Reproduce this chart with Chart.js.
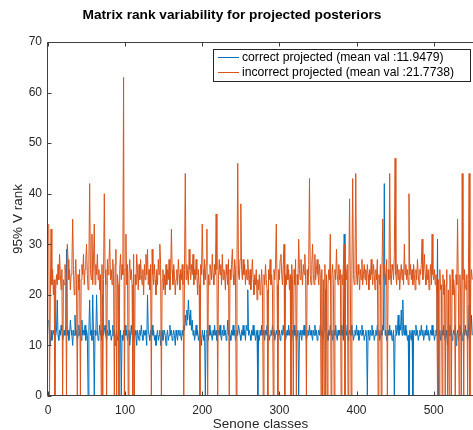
<!DOCTYPE html>
<html>
<head>
<meta charset="utf-8">
<title>Matrix rank variability</title>
<style>
  html, body { margin: 0; padding: 0; background: #fff; overflow: hidden; }
</style>
<script src="https://cdn.jsdelivr.net/npm/chart.js"></script>
</head>
<body>
<canvas id="myChart" width="473" height="430"></canvas>
<script>
// 95% rank per senone class, correct projections
var correctRank = [
  15,12,10,13,11,12,13,12,14,12, 13,19,12,11,13,12,14,13,11,12,
  13,12,14,29,12,13,11,12,15,13, 12,10,13,12,16,12,13,11,12,14,
  12,13,11,15,12,13,12,14,11,13, 12,0,13,19,12,13,11,20,12,0,
  13,12,20,13,11,12,14,12,13,11, 20,12,13,14,12,11,13,12,15,12,
  13,11,12,14,12,13,10,12,13,11, 12,14,12,13,0,12,11,13,12,14,
  12,13,11,12,13,10,12,14,12,13, 11,12,13,12,10,13,12,11,13,12,
  14,12,11,13,12,13,12,10,20,13, 12,11,13,12,14,12,13,11,12,10,
  12,13,11,12,13,10,12,13,11,12, 13,12,10,12,13,11,12,14,12,13,
  11,12,13,12,10,13,12,11,13,12, 13,12,11,13,12,14,13,16,14,17,
  15,19,16,14,17,13,15,12,13,11, 12,14,12,13,11,12,13,12,10,13,
  12,11,13,0,12,13,12,11,14,12, 13,12,11,13,12,14,12,13,11,12,
  13,12,14,12,11,13,12,14,12,13, 11,12,15,12,13,12,11,13,12,14,
  12,13,11,12,13,12,14,13,12,11, 13,12,14,12,13,11,14,13,21,12,
  13,12,11,13,12,14,12,13,11,12, 13,0,12,11,13,12,14,12,13,12,
  11,13,12,14,12,13,11,12,13,12, 14,12,13,11,12,13,12,14,12,13,
  11,12,13,12,14,12,13,11,12,13, 12,14,12,13,12,11,13,12,14,12,
  13,11,12,13,0,12,13,12,11,13, 12,14,12,13,11,12,13,12,14,12,
  13,12,11,13,12,14,12,13,11,12, 13,12,14,12,13,11,12,13,15,21,
  13,12,11,13,12,14,12,13,11,12, 13,12,14,12,11,13,12,13,12,14,
  12,13,11,32,12,13,12,14,11,12, 13,12,14,12,13,11,12,13,12,14,
  12,13,11,12,13,12,14,12,13,11, 12,13,12,0,13,12,11,13,12,14,
  12,13,11,12,13,12,14,12,13,11, 12,13,12,14,13,42,12,13,11,12,
  13,12,14,12,13,11,12,13,0,12, 14,12,13,16,12,14,13,17,12,19,
  13,12,14,12,13,11,12,0,13,12, 11,13,0,12,13,12,14,12,13,11,
  12,13,12,14,12,13,11,12,13,12, 14,12,13,11,12,13,12,14,12,13,
  11,12,13,12,31,0,12,13,11,12, 13,12,14,12,11,13,12,10,13,12,
  14,12,13,11,12,13,12,14,10,12, 13,11,12,14,12,13,11,12,13,12,
  14,12,13,11,12,18,13,12,16,12
];

// 95% rank per senone class, incorrect projections
var incorrectRank = [
  34,0,20,33,22,25,20,23,0,21, 24,22,26,23,28,24,21,25,0,23,
  22,26,24,0,30,27,23,25,21,24, 26,35,25,20,23,27,22,0,24,21,
  25,0,23,26,24,28,22,25,27,30, 24,21,26,42,25,23,32,22,27,34,
  22,26,24,28,23,25,21,24,0,26, 0,23,40,25,22,0,27,24,26,31,
  23,25,22,27,24,0,26,29,0,24, 22,0,25,28,23,26,24,63,0,25,
  32,22,26,0,24,27,23,25,22,0, 28,0,24,22,28,25,21,26,23,27,
  24,22,25,20,26,23,28,24,29,22, 25,21,26,0,29,24,22,26,23,20,
  25,22,27,24,30,26,0,23,25,21, 24,20,26,22,25,23,27,21,24,33,
  25,22,26,24,20,23,25,22,27,24, 21,25,23,26,22,0,25,44,23,26,
  24,22,29,25,23,26,24,28,22,25, 23,27,24,20,25,22,0,26,24,34,
  25,22,27,23,26,33,0,24,22,26, 25,23,28,24,22,26,24,36,25,0,
  23,27,24,26,22,28,23,25,24,21, 26,24,22,27,0,25,23,26,29,24,
  22,27,25,0,26,46,24,23,27,38, 25,23,27,24,26,22,25,23,27,24,
  22,25,21,24,27,23,20,24,22,25, 19,23,21,24,20,22,25,21,0,24,
  22,26,23,21,0,25,23,27,22,24, 21,0,25,23,26,34,22,0,25,23,
  27,28,24,22,26,30,0,24,22,26, 23,25,21,24,0,26,23,0,25,22,
  27,0,24,22,31,25,23,27,24,22, 26,24,28,23,0,25,22,26,43,24,
  22,26,30,24,22,28,23,25,27,24, 22,26,24,0,25,0,23,0,26,0,
  24,0,22,25,23,32,0,24,26,22, 0,25,23,29,24,22,26,23,25,0,
  24,22,26,30,0,25,23,26,0,24, 39,22,0,25,43,24,22,26,44,24,
  22,26,24,21,25,23,27,22,24,26, 23,25,22,26,24,21,25,23,27,24,
  22,26,24,21,25,23,27,0,24,22, 26,0,25,35,23,26,24,22,27,0,
  25,23,44,24,22,26,25,23,28,47, 24,22,26,23,25,21,24,26,23,25,
  22,30,24,26,23,25,22,40,24,26, 23,25,22,26,24,21,25,23,27,24,
  22,25,24,26,31,23,25,28,24,22, 26,23,25,21,24,26,22,32,24,23,
  25,22,24,20,0,23,0,25,21,22, 0,24,20,23,0,22,25,0,21,0,
  24,22,0,25,20,23,21,0,24,22, 35,21,0,24,20,0,44,23,0,25,
  22,21,24,0,23,44,0,22,25,23
];

var seriesNames = [
  'correct projected (mean val :11.9479)',
  'incorrect projected (mean val :21.7738)'
];
var xTicks = [0, 100, 200, 300, 400, 500];
var yTicks = [0, 10, 20, 30, 40, 50, 60, 70];

var blue = '#0072BD';
var orange = '#D95319';
var axisColor = '#404040';
var fontFamily = '"Liberation Sans", Arial, Helvetica, sans-serif';

function toPoints(arr) {
  return arr.map(function (v, i) { return { x: i + 1, y: v }; });
}

// box, inward ticks, title and legend in MATLAB style
var matlabAxes = {
  id: 'matlabAxes',
  afterDatasetsDraw: function (chart) {
    var ctx = chart.ctx;
    var a = chart.chartArea;
    var xs = chart.scales.x, ys = chart.scales.y;
    var L = Math.round(a.left) - 0.5, T = Math.round(a.top) + 0.5, B = Math.round(a.bottom) - 0.5;
    ctx.save();
    ctx.strokeStyle = axisColor;
    ctx.lineWidth = 1;
    ctx.beginPath();
    ctx.moveTo(chart.width, T); ctx.lineTo(L, T); ctx.lineTo(L, B); ctx.lineTo(chart.width, B);
    xTicks.forEach(function (v) {
      var px = Math.round(xs.getPixelForValue(v)) + 0.5;
      ctx.moveTo(px, B); ctx.lineTo(px, B - 4);
      ctx.moveTo(px, T); ctx.lineTo(px, T + 4);
    });
    yTicks.forEach(function (v) {
      var py = Math.round(ys.getPixelForValue(v)) + 0.5;
      ctx.moveTo(L, py); ctx.lineTo(L + 4, py);
    });
    ctx.stroke();

    // title
    ctx.fillStyle = '#000';
    ctx.font = 'bold 13.7px ' + fontFamily;
    ctx.textAlign = 'center';
    ctx.textBaseline = 'middle';
    ctx.fillText('Matrix rank variability for projected posteriors', 232, 15);

    // legend
    var lx = 213.5, ly = 49.5, lw = 257, lh = 32;
    ctx.fillStyle = '#fff';
    ctx.fillRect(lx, ly, lw, lh);
    ctx.strokeStyle = '#262626';
    ctx.strokeRect(lx, ly, lw, lh);
    ctx.font = '12.2px ' + fontFamily;
    ctx.textAlign = 'left';
    [blue, orange].forEach(function (c, k) {
      var y = 57.5 + k * 15;
      ctx.strokeStyle = c;
      ctx.beginPath();
      ctx.moveTo(218, y); ctx.lineTo(239, y);
      ctx.stroke();
      ctx.fillStyle = '#000';
      ctx.fillText(seriesNames[k], 242, y);
    });
    ctx.restore();
  }
};

var ctx = document.getElementById('myChart').getContext('2d');
var chart = new Chart(ctx, {
  type: 'line',
  data: {
    datasets: [
      {
        label: seriesNames[0],
        data: toPoints(correctRank),
        borderColor: blue,
        borderWidth: 1,
        pointRadius: 0,
        tension: 0,
        order: 1
      },
      {
        label: seriesNames[1],
        data: toPoints(incorrectRank),
        borderColor: orange,
        borderWidth: 1,
        pointRadius: 0,
        tension: 0,
        order: 0
      }
    ]
  },
  options: {
    responsive: false,
    animation: false,
    events: [],
    layout: { padding: { top: 42, right: 0, left: 0, bottom: 0 } },
    plugins: {
      legend: { display: false },
      title: { display: false },
      tooltip: { enabled: false }
    },
    scales: {
      x: {
        type: 'linear',
        min: 0,
        max: 551,
        grid: { display: false, drawTicks: false },
        border: { display: false },
        afterBuildTicks: function (s) { s.ticks = xTicks.map(function (v) { return { value: v }; }); },
        afterFit: function (s) { s.height = 34; },
        ticks: { padding: 7, color: '#262626', font: { family: fontFamily, size: 12 }, maxRotation: 0 },
        title: { display: true, text: 'Senone classes', color: '#262626', padding: { top: 0, bottom: -2 }, font: { family: fontFamily, size: 13.5 } }
      },
      y: {
        min: 0,
        max: 70,
        grid: { display: false, drawTicks: false },
        border: { display: false },
        afterBuildTicks: function (s) { s.ticks = yTicks.map(function (v) { return { value: v }; }); },
        afterFit: function (s) { s.width = 48; },
        ticks: { padding: 6, color: '#262626', font: { family: fontFamily, size: 12 } },
        title: { display: true, text: '95% V rank', color: '#262626', padding: { top: 10, bottom: 0 }, font: { family: fontFamily, size: 13.5 } }
      }
    }
  },
  plugins: [matlabAxes]
});
</script>
</body>
</html>
